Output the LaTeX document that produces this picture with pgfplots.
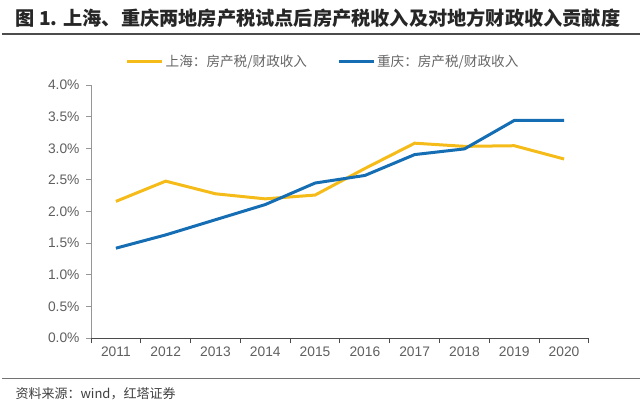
\documentclass[border=0pt]{standalone}
\usepackage{fontspec}
\setmainfont{Liberation Sans}
\newfontfamily\cjk{Noto Sans CJK SC}
\usepackage{pgfplots}
\pgfplotsset{compat=1.18}
\definecolor{shyellow}{RGB}{245,188,25}
\definecolor{cqblue}{RGB}{21,110,180}
\definecolor{axisgray}{RGB}{150,150,150}
\definecolor{xaxisdark}{RGB}{75,75,75}
\definecolor{labelgray}{RGB}{95,95,95}
\begin{document}
\begin{tikzpicture}
\path[use as bounding box] (0pt,0pt) rectangle (640pt,407pt);
\node[anchor=west, font=\cjk\bfseries\fontsize{19.2}{21}\selectfont, text=black!85] at (12pt,389pt) {图 1. 上海、重庆两地房产税试点后房产税收入及对地方财政收入贡献度};
\draw[line width=1.2pt, black!70] (2pt,373pt) -- (640pt,373pt);
\draw[line width=1pt, black!55] (2pt,28.5pt) -- (640pt,28.5pt);
\node[anchor=west, font=\cjk\fontsize{13}{14}\selectfont, text=black!75] at (12pt,13.5pt) {资料来源：wind，红塔证券};
\begin{axis}[
    at={(91pt,69pt)}, anchor=south west,
    width=498pt, height=253pt, scale only axis,
    xmin=2010.5, xmax=2020.5, ymin=0, ymax=4,
    xtick={2011,...,2020},
    minor xtick={2010.5,2011.5,...,2020.5},
    ytick={0,0.5,...,4},
    axis lines=left,
    x axis line style={-, draw=xaxisdark, line width=1pt},
    y axis line style={-, draw=axisgray, line width=0.9pt},
    xtick style={draw=xaxisdark, line width=1pt},
    ytick style={draw=axisgray, line width=0.9pt},
    major x tick style={draw=none},
    major tick length=5pt, minor tick length=5pt,
    tick align=outside,
    /pgf/number format/assume math mode=true,
    tick label style={font=\fontsize{13.8}{15}\selectfont, text=labelgray},
    x tick label style={/pgf/number format/1000 sep={}},
    y tick label style={xshift=-3pt},
    yticklabel={\pgfmathprintnumber[fixed,fixed zerofill,precision=1]{\tick}\%},
    legend style={at={(axis description cs:0.466,1.091)}, anchor=center, draw=none,
        font=\cjk\fontsize{13.6}{15}\selectfont, text=black!60,
        /tikz/every even column/.append style={column sep=28pt}},
    legend columns=2,
    legend image code/.code={\draw[#1,line width=3pt] (0pt,0pt) -- (35pt,0pt);},
]
\addplot[shyellow, line width=3pt, mark=none] coordinates {
    (2011,2.16) (2012,2.48) (2013,2.28) (2014,2.20) (2015,2.26)
    (2016,2.68) (2017,3.08) (2018,3.03) (2019,3.04) (2020,2.83)};
\addlegendentry{上海：房产税/财政收入}
\addplot[cqblue, line width=3pt, mark=none] coordinates {
    (2011,1.42) (2012,1.63) (2013,1.87) (2014,2.11) (2015,2.45)
    (2016,2.57) (2017,2.90) (2018,2.99) (2019,3.44) (2020,3.44)};
\addlegendentry{重庆：房产税/财政收入}
\end{axis}
\end{tikzpicture}
\end{document}
